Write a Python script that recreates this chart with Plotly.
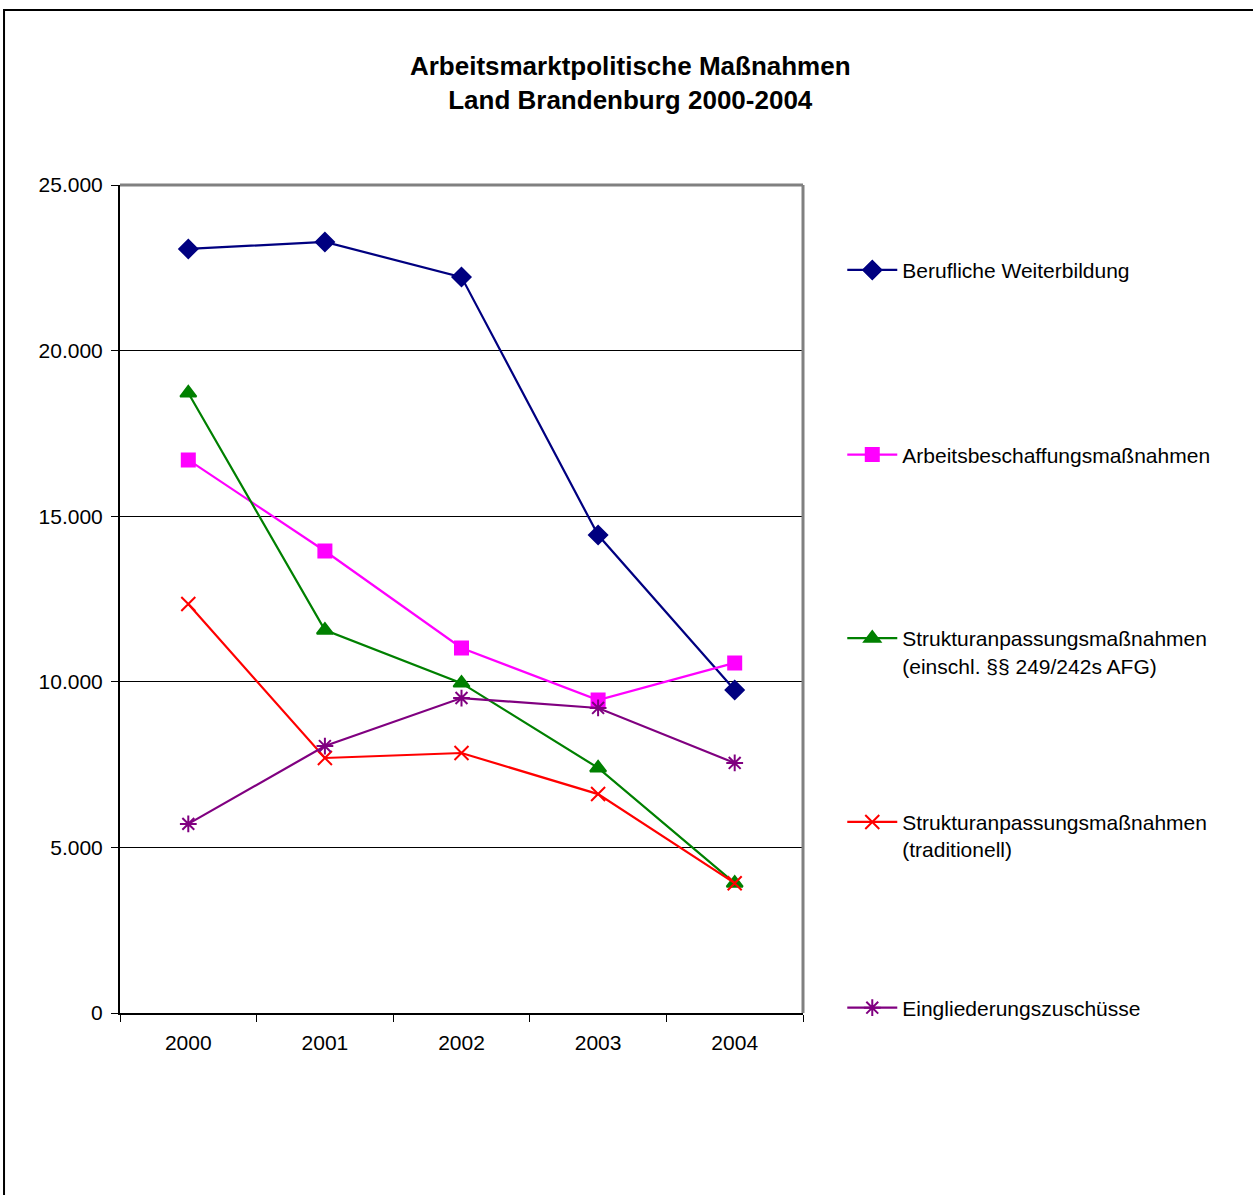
import plotly.graph_objects as go

# data
years = ["2000", "2001", "2002", "2003", "2004"]

weiterbildung = [23070, 23280, 22220, 14430, 9750]
abm = [16700, 13950, 11020, 9450, 10570]
sam_afg = [18720, 11560, 9960, 7400, 3920]
sam_trad = [12350, 7700, 7850, 6610, 3920]
eingliederung = [5710, 8060, 9510, 9210, 7550]

names = [
    "Berufliche Weiterbildung",
    "Arbeitsbeschaffungsmaßnahmen",
    "Strukturanpassungsmaßnahmen<br>(einschl. §§ 249/242s AFG)",
    "Strukturanpassungsmaßnahmen<br>(traditionell)",
    "Eingliederungszuschüsse",
]
series = [weiterbildung, abm, sam_afg, sam_trad, eingliederung]
colors = ["#000080", "#FF00FF", "#008000", "#FF0000", "#800080"]
symbols = ["diamond", "square", "triangle-up", "x-thin-open", "asterisk-open"]
sizes = [14, 13, 14, 14, 14]

legend_names = ["legend", "legend2", "legend3", "legend4", "legend5"]
legend_y = [0.897, 0.674, 0.436, 0.214, 0.006]

fig = go.Figure()
for i in range(5):
    fig.add_trace(
        go.Scatter(
            x=years,
            y=series[i],
            name=names[i],
            mode="lines+markers",
            line=dict(color=colors[i], width=2.2),
            marker=dict(
                symbol=symbols[i],
                size=sizes[i],
                color=colors[i],
                line=dict(color=colors[i], width=2),
            ),
            legend=legend_names[i],
        )
    )

font = dict(family="Liberation Sans, Arial, sans-serif", size=21, color="black")

layout_legends = {}
for i in range(5):
    layout_legends[legend_names[i]] = dict(
        x=1.0575,
        xanchor="left",
        y=legend_y[i],
        yanchor="middle",
        valign="top",
        font=font,
        bgcolor="rgba(0,0,0,0)",
        itemwidth=50,
    )

fig.update_layout(
    width=1253,
    height=1195,
    margin=dict(l=120, r=450, t=185, b=182),
    paper_bgcolor="white",
    plot_bgcolor="white",
    separators=",.",
    font=font,
    title=dict(
        text="<b>Arbeitsmarktpolitische Maßnahmen<br>Land Brandenburg 2000-2004</b>",
        x=0.503,
        xanchor="center",
        y=0.937,
        yanchor="top",
        font=dict(family="Liberation Sans, Arial, sans-serif", size=26, color="black"),
    ),
    showlegend=True,
    **layout_legends,
)

fig.update_xaxes(
    type="category",
    range=[-0.5, 4.5],
    tickson="boundaries",
    ticks="outside",
    ticklen=7,
    tickcolor="black",
    ticklabelstandoff=10,
    showline=True,
    linecolor="black",
    linewidth=2,
    showgrid=False,
    tickfont=font,
)
fig.update_yaxes(
    range=[0, 25000],
    dtick=5000,
    tickformat=",d",
    ticks="outside",
    ticklen=7,
    tickcolor="black",
    ticklabelstandoff=4,
    showline=True,
    linecolor="black",
    linewidth=2,
    showgrid=True,
    gridcolor="black",
    gridwidth=1,
    zeroline=False,
    tickfont=font,
)

# gray top and right frame of the plot area, outer border of the chart
fig.add_shape(type="line", xref="paper", yref="paper", x0=0, x1=1, y0=1, y1=1,
              line=dict(color="#808080", width=3))
fig.add_shape(type="line", xref="paper", yref="paper", x0=1, x1=1, y0=0, y1=1,
              line=dict(color="#808080", width=3))
fig.add_shape(type="rect", xref="paper", yref="paper",
              x0=-0.1698, x1=1.67, y0=-0.23, y1=1.2113,
              line=dict(color="black", width=2), layer="below")

# page margin off so the figure sits at the window origin
fig.write_html(
    "out.html",
    config={"displayModeBar": False},
    post_script="document.body.style.margin='0';",
)
